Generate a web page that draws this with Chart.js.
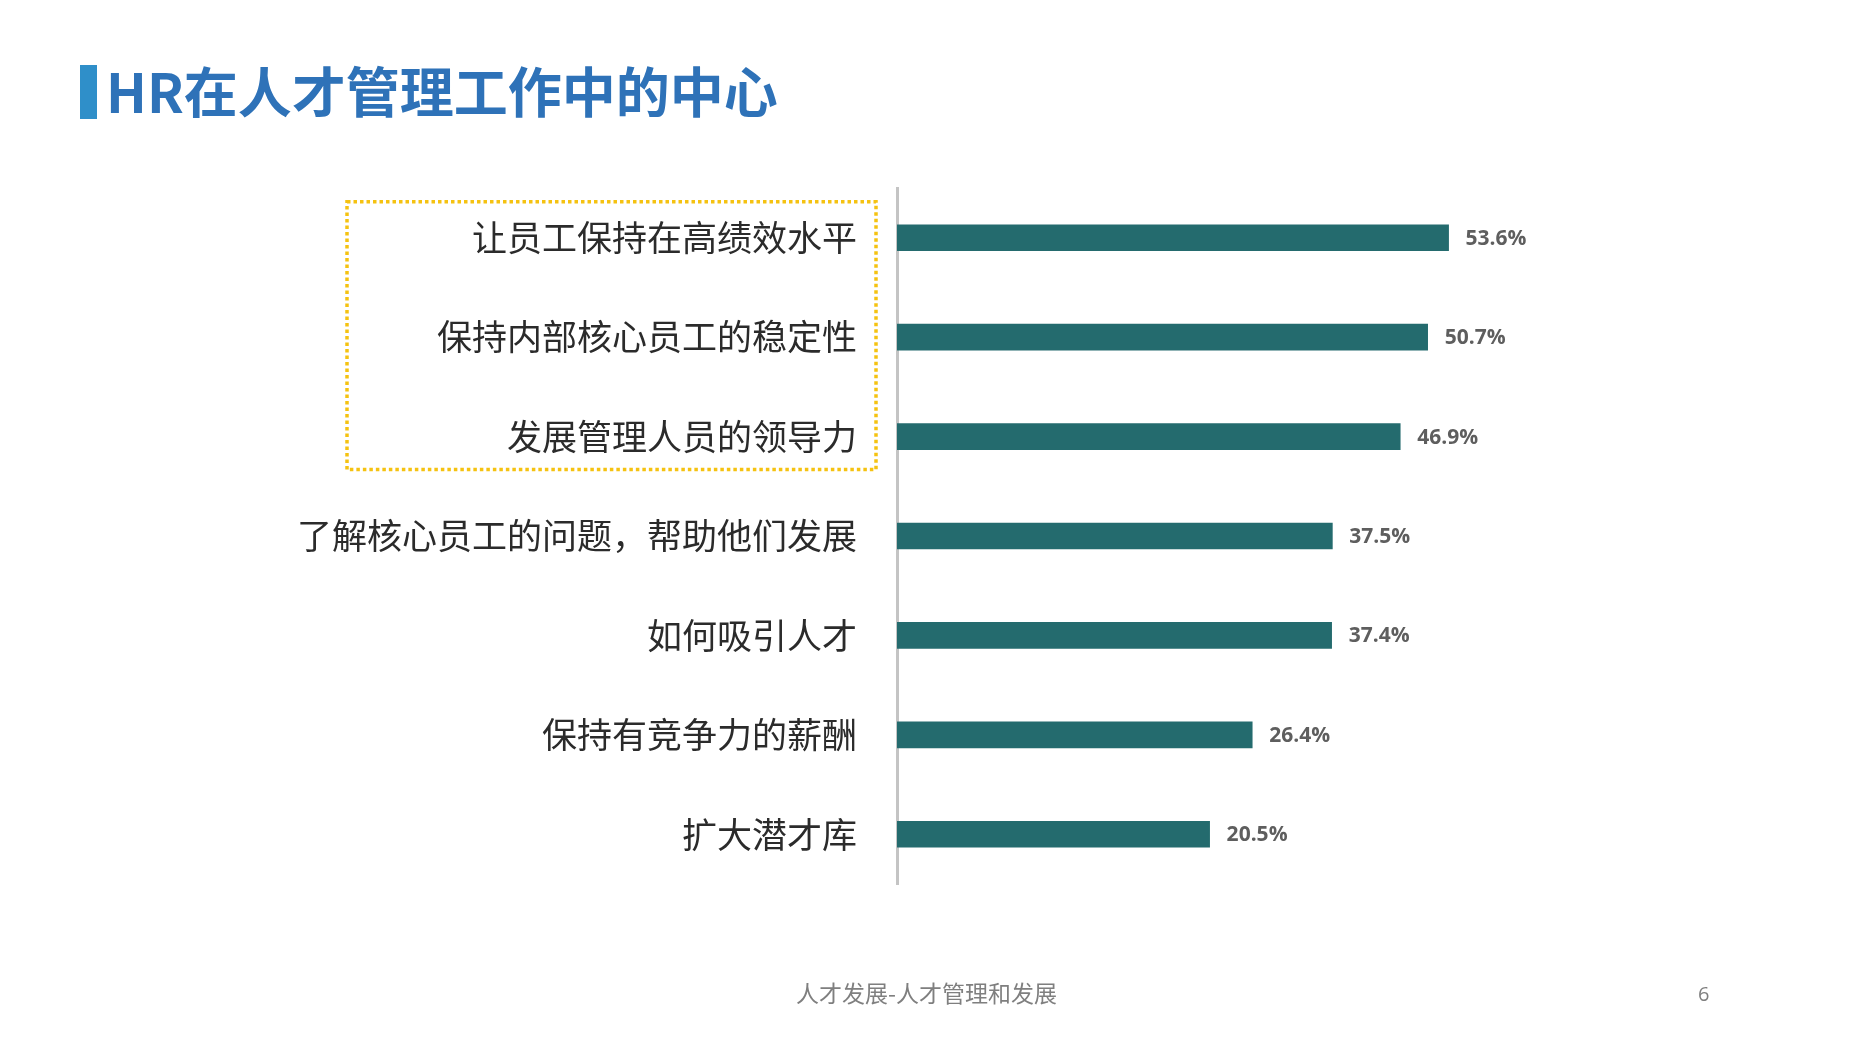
<!DOCTYPE html>
<html>
<head>
<meta charset="utf-8">
<script src="https://cdn.jsdelivr.net/npm/chart.js@4/dist/chart.umd.min.js"></script>
<style>
  html, body { margin: 0; padding: 0; background: #ffffff; }
  body { width: 1849px; height: 1038px; position: relative; overflow: hidden; font-family: "Noto Sans CJK SC", "Noto Sans", sans-serif; }
  #titleBar { position: absolute; left: 80px; top: 65px; width: 17px; height: 54px; background: #2f8fc9; }
  #title { position: absolute; left: 106px; top: 55px; font-size: 54px; font-weight: 700; color: #2e72b8; line-height: 70px; white-space: nowrap; }
  #chartWrap { position: absolute; left: 0; top: 0; width: 1849px; height: 1038px; }
  #footer { position: absolute; left: 0; width: 1849px; top: 975px; text-align: center; font-size: 23px; color: #7f7f7f; padding-left: 2px; }
  #page { position: absolute; left: 1698px; top: 980px; font-size: 20px; color: #7f7f7f; font-family: "Open Sans", sans-serif; }
</style>
</head>
<body>
<div id="titleBar"></div>
<div id="title">HR在人才管理工作中的中心</div>
<div id="chartWrap"><canvas id="c" width="1849" height="1038"></canvas></div>
<div id="footer">人才发展-人才管理和发展</div>
<div id="page">6</div>
<script>
const categories = [
  "让员工保持在高绩效水平",
  "保持内部核心员工的稳定性",
  "发展管理人员的领导力",
  "了解核心员工的问题，帮助他们发展",
  "如何吸引人才",
  "保持有竞争力的薪酬",
  "扩大潜才库"
];
const values = [53.6, 50.7, 46.9, 37.5, 37.4, 26.4, 20.5];
const valueLabels = ["53.6%", "50.7%", "46.9%", "37.5%", "37.4%", "26.4%", "20.5%"];
const highlighted = [0, 1, 2];

const AXIS_MIN = -22.8;
const AXIS_MAX = 70;

const valueLabelPlugin = {
  id: 'valueLabels',
  afterDatasetsDraw(chart) {
    const ctx = chart.ctx;
    const meta = chart.getDatasetMeta(0);
    ctx.save();
    ctx.font = 'bold 21px "Open Sans", "Noto Sans", sans-serif';
    ctx.fillStyle = '#5e5e5e';
    ctx.textAlign = 'left';
    ctx.textBaseline = 'middle';
    meta.data.forEach((bar, i) => {
      ctx.fillText(valueLabels[i], bar.x + 17, bar.y + 1);
    });
    ctx.restore();
  }
};

const highlightBoxPlugin = {
  id: 'highlightBox',
  afterDraw(chart) {
    const ctx = chart.ctx;
    const y = chart.scales.y;
    const axisX = chart.chartArea.left;
    const top = y.getPixelForValue(highlighted[0]) - 36;
    const bottom = y.getPixelForValue(highlighted[highlighted.length - 1]) + 33;
    const left = axisX - 550;
    const right = axisX - 21;
    ctx.save();
    ctx.strokeStyle = '#f5c211';
    ctx.lineWidth = 3.5;
    ctx.setLineDash([3.5, 3]);
    ctx.strokeRect(left, top, right - left, bottom - top);
    ctx.restore();
  }
};

new Chart(document.getElementById('c'), {
  type: 'bar',
  data: {
    labels: categories,
    datasets: [{
      data: values,
      base: AXIS_MIN,
      backgroundColor: '#246b6e',
      borderWidth: 0,
      barThickness: 26
    }]
  },
  options: {
    indexAxis: 'y',
    responsive: false,
    animation: false,
    devicePixelRatio: 1,
    layout: { padding: { top: 188, bottom: 154, left: 0, right: 282 } },
    plugins: { legend: { display: false }, tooltip: { enabled: false } },
    scales: {
      x: {
        type: 'linear',
        display: false,
        min: AXIS_MIN,
        max: AXIS_MAX
      },
      y: {
        type: 'category',
        afterFit(scale) { scale.width = 897; },
        grid: { display: false, drawTicks: false },
        border: { display: true, color: '#c4c4c4', width: 3 },
        ticks: {
          padding: 40,
          color: '#2b2b2b',
          font: { family: '"Noto Sans CJK SC", "Noto Sans", sans-serif', size: 35 }
        }
      }
    }
  },
  plugins: [valueLabelPlugin, highlightBoxPlugin]
});
</script>
</body>
</html>
